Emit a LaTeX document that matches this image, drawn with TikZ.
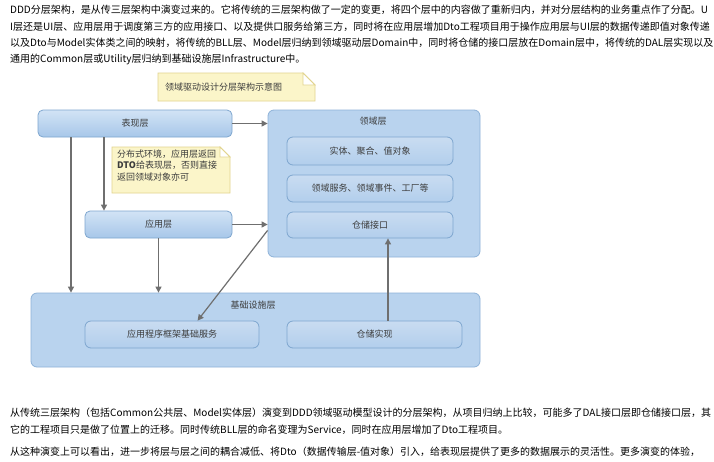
\documentclass[tikz,border=0pt]{standalone}
\usepackage{fontspec}
\setmainfont{Noto Sans CJK SC}
\usetikzlibrary{arrows.meta,calc,backgrounds}
\definecolor{bordblue}{HTML}{7EA6CF}
\definecolor{topblue}{HTML}{D2E3F5}
\definecolor{botblue}{HTML}{A7C7E9}
\definecolor{outerfill}{HTML}{B9D3EE}
\definecolor{outerbord}{HTML}{8EB2D8}
\definecolor{innertop}{HTML}{C9DCF1}
\definecolor{innerbot}{HTML}{B2CEEC}
\definecolor{notefill}{HTML}{FBF5C9}
\definecolor{notebord}{HTML}{E2D48E}
\definecolor{arrgray}{HTML}{6F6F6F}
\definecolor{dtext}{HTML}{3C3C3C}
\tikzset{
  layerbox/.style={draw=bordblue, line width=0.8pt, rounded corners=5pt, top color=topblue, bottom color=botblue, text=dtext, font=\fontsize{9}{11}\selectfont, inner sep=0pt},
  outerbox/.style={draw=outerbord, line width=0.8pt, rounded corners=6pt, fill=outerfill, inner sep=0pt},
  innerbox/.style={draw=bordblue, line width=0.8pt, rounded corners=6pt, top color=innertop, bottom color=innerbot, text=dtext, font=\fontsize{9}{11}\selectfont, inner sep=0pt},
  titletext/.style={text=dtext, font=\fontsize{9}{11}\selectfont, inner sep=0pt},
  notedraw/.style={draw=notebord, line width=0.8pt, fill=notefill},
  foldfill/.style={draw=notebord, line width=0.8pt, fill=white},
  notetext/.style={text=dtext, font=\fontsize{9}{11.5}\selectfont, inner sep=0pt, align=left},
  bodytext/.style={text=black, font=\fontsize{10}{12}\selectfont, inner sep=0pt, anchor=west},
  arr/.style={draw=arrgray, line width=1.2pt, -{Triangle[length=6pt,width=6pt]}},
}
\begin{document}
\begin{tikzpicture}[x=1pt,y=-1pt]
\useasboundingbox (0,0) rectangle (714,461);
\fill[white] (0,0) rectangle (714,461);

% body text
\node[bodytext] (t1) at (10,10) {DDD分层架构，是从传三层架构中演变过来的。它将传统的三层架构做了一定的变更，将四个层中的内容做了重新归内，并对分层结构的业务重点作了分配。U};
\node[bodytext] (t2) at (10,26.5) {I层还是UI层、应用层用于调度第三方的应用接口、以及提供口服务给第三方，同时将在应用层增加Dto工程项目用于操作应用层与UI层的数据传递即值对象传递};
\node[bodytext] (t3) at (10,43) {以及Dto与Model实体类之间的映射，将传统的BLL层、Model层归纳到领域驱动层Domain中，同时将仓储的接口层放在Domain层中，将传统的DAL层实现以及};
\node[bodytext] (t4) at (10,59.5) {通用的Common层或Utility层归纳到基础设施层Infrastructure中。};

\node[bodytext] (t5) at (10,413) {从传统三层架构（包括Common公共层、Model实体层）演变到DDD领域驱动模型设计的分层架构，从项目归纳上比较，可能多了DAL接口层即仓储接口层，其};
\node[bodytext] (t6) at (10,430) {它的工程项目只是做了位置上的迁移。同时传统BLL层的命名变理为Service，同时在应用层增加了Dto工程项目。};
\node[bodytext] (t7) at (10,452) {从这种演变上可以看出，进一步将层与层之间的耦合减低、将Dto（数据传输层-值对象）引入，给表现层提供了更多的数据展示的灵活性。更多演变的体验，};

% title note
\draw[notedraw] (158,73) -- (303,73) -- (315,85) -- (315,101) -- (158,101) -- cycle;
\draw[foldfill] (303,73) -- (303,85) -- (315,85) -- cycle;
\node[notetext, anchor=west] (title) at (165,87) {领域驱动设计分层架构示意图};

% domain layer
\node[outerbox, minimum width=212, minimum height=147] (dom) at (374,183.5) {};
\node[titletext] (domt) at (373,121) {领域层};
\node[innerbox, minimum width=166, minimum height=28] (ent) at (370,151) {实体、聚合、值对象};
\node[innerbox, minimum width=166, minimum height=27] (dsv) at (370,188.5) {领域服务、领域事件、工厂等};
\node[innerbox, minimum width=166, minimum height=26] (rif) at (370,225) {仓储接口};

% infrastructure layer
\node[outerbox, minimum width=449, minimum height=74] (inf) at (255.5,330) {};
\node[titletext] (inft) at (253,305) {基础设施层};
\node[innerbox, minimum width=174, minimum height=27] (fw) at (172,334.5) {应用程序框架基础服务};
\node[innerbox, minimum width=175, minimum height=27] (rim) at (374.5,334.5) {仓储实现};

% presentation and application layers
\node[layerbox, minimum width=194, minimum height=27] (pres) at (135,123.5) {表现层};
\node[layerbox, minimum width=147, minimum height=27] (app) at (158.5,224.5) {应用层};

% DTO note
\draw[notedraw] (112,147) -- (220,147) -- (230,157) -- (230,193) -- (112,193) -- cycle;
\draw[foldfill] (220,147) -- (220,157) -- (230,157) -- cycle;
\node[notetext, anchor=north west] (dto) at (117,149.5) {分布式环境，应用层返回\\\textbf{DTO}给表现层，否则直接\\返回领域对象亦可};

% helper coordinates
\coordinate (x71) at (71,0);
\coordinate (x104) at (104,0);
\coordinate (x388) at (388,0);

% connectors
\draw[arr] (pres.east) -- (pres.east -| dom.west);
\draw[arr] (pres.south -| x71) -- (inf.north -| x71);
\draw[arr] (pres.south -| x104) -- (app.north -| x104);
\draw[arr] (app.east) -- (app.east -| dom.west);
\draw[arr] (app.south) -- (app.south |- inf.north);
\draw[arr] ($(dom.south west)+(0,-27)$) -- ($(fw.north west)+(113,0)$);
\draw[arr] (rim.north -| x388) -- (rif.south -| x388);
\end{tikzpicture}
\end{document}
